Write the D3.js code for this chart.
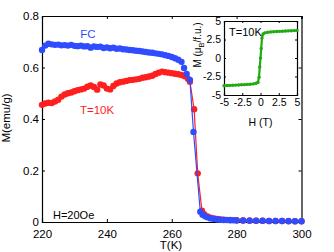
<!DOCTYPE html>
<html>
<head>
  <meta charset="utf-8">
  <title>M(T) FC / ZFC</title>
<style>
body { margin: 0; background: #fff; }
svg text { font-family: "Liberation Sans", Arial, sans-serif; fill: #000; }
.axis path, .axis line { stroke: #000; }
.tick-label { font-size: 11.5px; }
.inset-label { font-size: 10.5px; }
</style>
</head>
<body>
  <svg id="chart" width="334" height="252"></svg>
  <script src="https://cdn.jsdelivr.net/npm/d3@7"></script>
  <script>

// field cooled curve (blue)
var fcT = [220,221,222,223,224,225,226,227,228,229,230,231,232,233,234,235,236,237,238,239,
           240,241,242,243,244,245,246,247,248,249,250,251,252,253,254,255,256,257,258,259,
           260,261,262,263,263.8,264.6,265.6,266.7,268.8,269.5,270.3,271,272,273,274,275,276,277,278,279,
           280,282,284,286,288,290,292,294,296,298,300];
var fcM = [0.668,0.685,0.692,0.690,0.688,0.689,0.686,0.687,0.685,0.688,0.684,0.683,0.685,0.682,0.683,0.677,0.682,0.680,0.681,0.676,
           0.678,0.675,0.677,0.673,0.674,0.671,0.670,0.668,0.667,0.665,0.664,0.662,0.660,0.658,0.657,0.655,0.653,0.651,0.648,0.645,
           0.641,0.636,0.630,0.622,0.598,0.575,0.552,0.350,0.040,0.028,0.022,0.018,0.014,0.012,0.010,0.009,0.008,0.008,0.007,0.007,
           0.006,0.006,0.005,0.005,0.005,0.004,0.004,0.004,0.004,0.003,0.003];

// T=10K curve (red)
var zfcT = [220,221,222,223,224,225,226,227,228,229,230,231,232,233,234,235,236,237,238,239,
            240,241,242,243,244,245,246,247,248,249,250,251,252,253,254,255,256,257,258,259,
            260,261,262,263,264,265,265.6,266.9,268.0,269.3,270,271,272,273,274,275,276,278,280,
            282,284,286,288,290,292,294,296,298,300];
var zfcM = [0.455,0.460,0.463,0.462,0.468,0.475,0.487,0.495,0.500,0.503,0.508,0.512,0.515,0.518,0.525,0.530,0.524,0.514,0.534,0.530,
            0.518,0.515,0.528,0.538,0.543,0.545,0.548,0.551,0.552,0.554,0.556,0.560,0.562,0.565,0.568,0.575,0.580,0.584,0.582,0.580,
            0.578,0.576,0.574,0.571,0.566,0.556,0.545,0.438,0.189,0.044,0.030,0.022,0.017,0.014,0.012,0.010,0.009,0.008,0.007,
            0.006,0.006,0.005,0.005,0.004,0.004,0.004,0.003,0.003,0.003];

// inset: M(H) loop at T=10K (green)
var loopH = [-5,-4.6,-4.2,-3.8,-3.4,-3,-2.6,-2.2,-1.8,-1.4,-1,-0.6,-0.35,-0.2,-0.1,0,0.1,0.2,0.35,0.6,
             1,1.4,1.8,2.2,2.6,3,3.4,3.8,4.2,4.6,5];
var loopM = [-3.75,-3.72,-3.70,-3.68,-3.66,-3.64,-3.62,-3.60,-3.57,-3.54,-3.50,-3.42,-3.30,-2.6,-1.2,0,1.3,2.7,3.25,3.40,
             3.48,3.52,3.55,3.58,3.60,3.62,3.64,3.66,3.68,3.70,3.73];

var mainXTicks = [220,240,260,280,300];
var mainYTicks = [0,0.2,0.4,0.6,0.8];
var insetTicks = [-5,-2.5,0,2.5,5];

var blue = "#2f4dff", red = "#ff1f1f", green = "#22aa11";

var svg = d3.select("#chart");

// ---- main panel
var x = d3.scaleLinear().domain([220, 300]).range([42, 301.5]);
var y = d3.scaleLinear().domain([0, 0.8]).range([222, 16]);

function frame(g, xs, ys, xt, yt, tl, fmt, cls, xpad) {
  var r = xs.range(), q = ys.range();
  g.append("g").attr("class", "axis").attr("transform", "translate(0," + q[0] + ")")
    .call(d3.axisBottom(xs).tickValues(xt).tickSize(-tl).tickFormat(fmt).tickPadding(xpad));
  g.append("g").attr("class", "axis").attr("transform", "translate(0," + q[1] + ")")
    .call(d3.axisTop(xs).tickValues(xt).tickSize(-tl).tickFormat(""));
  g.append("g").attr("class", "axis").attr("transform", "translate(" + r[0] + ",0)")
    .call(d3.axisLeft(ys).tickValues(yt).tickSize(-tl).tickFormat(fmt).tickPadding(3));
  g.append("g").attr("class", "axis").attr("transform", "translate(" + r[1] + ",0)")
    .call(d3.axisRight(ys).tickValues(yt).tickSize(-tl).tickFormat(""));
  g.selectAll(".axis path").attr("stroke-width", 1.2);
  g.selectAll(".axis .tick text").attr("class", cls).attr("font-size", null).attr("font-family", null);
}

var main = svg.append("g");
frame(main, x, y, mainXTicks, mainYTicks, 3, function (d) { return d; }, "tick-label", 7.5);

var line = d3.line().x(function (d) { return x(d[0]); }).y(function (d) { return y(d[1]); });

function series(ts, ms, color) {
  var pts = ts.map(function (t, i) { return [t, ms[i]]; });
  main.append("path").datum(pts).attr("d", line)
    .attr("fill", "none").attr("stroke", color).attr("stroke-width", 1.2);
  main.append("g").selectAll("circle").data(pts).enter().append("circle")
    .attr("cx", function (d) { return x(d[0]); })
    .attr("cy", function (d) { return y(d[1]); })
    .attr("r", 3.2).attr("fill", color);
}
series(zfcT, zfcM, red);
series(fcT, fcM, blue);

main.append("text").attr("x", 88).attr("y", 38).attr("text-anchor", "middle")
  .attr("font-size", 11.5).style("fill", blue).text("FC");
main.append("text").attr("x", 97).attr("y", 114).attr("text-anchor", "middle")
  .attr("font-size", 11.5).style("fill", red).text("T=10K");
main.append("text").attr("x", 53).attr("y", 219)
  .attr("font-size", 11).text("H=20Oe");
main.append("text").attr("x", 171).attr("y", 249).attr("text-anchor", "middle")
  .attr("font-size", 11.5).text("T(K)");
main.append("text").attr("transform", "translate(10,118) rotate(-90)").attr("text-anchor", "middle")
  .attr("font-size", 11.5).text("M(emu/g)");

// ---- inset
var ix = d3.scaleLinear().domain([-5, 5]).range([224, 297]);
var iy = d3.scaleLinear().domain([-5, 5]).range([95, 21]);

var inset = svg.append("g");
inset.append("rect").attr("x", 224).attr("y", 21).attr("width", 73).attr("height", 74).attr("fill", "#fff");
frame(inset, ix, iy, insetTicks, insetTicks, 2, function (d) { return d; }, "inset-label", 4);

var iline = d3.line().x(function (d) { return ix(d[0]); }).y(function (d) { return iy(d[1]); });
var loop = loopH.map(function (h, i) { return [h, loopM[i]]; });
inset.append("path").datum(loop).attr("d", iline)
  .attr("fill", "none").attr("stroke", green).attr("stroke-width", 2.2);
inset.append("g").selectAll("circle").data(loop).enter().append("circle")
  .attr("cx", function (d) { return ix(d[0]); })
  .attr("cy", function (d) { return iy(d[1]); })
  .attr("r", 1.7).attr("fill", green);

inset.append("text").attr("x", 229).attr("y", 36).attr("font-size", 11).text("T=10K");
inset.append("text").attr("x", 260.5).attr("y", 126).attr("text-anchor", "middle")
  .attr("font-size", 10.5).text("H (T)");
var yl = inset.append("text").attr("transform", "translate(201,45) rotate(-90)")
  .attr("text-anchor", "middle").attr("font-size", 10);
yl.append("tspan").text("M (\u03bc");
yl.append("tspan").attr("font-size", 7.5).attr("dy", 3).text("B");
yl.append("tspan").attr("dy", -3).text("/f.u.)");

  </script>
</body>
</html>
